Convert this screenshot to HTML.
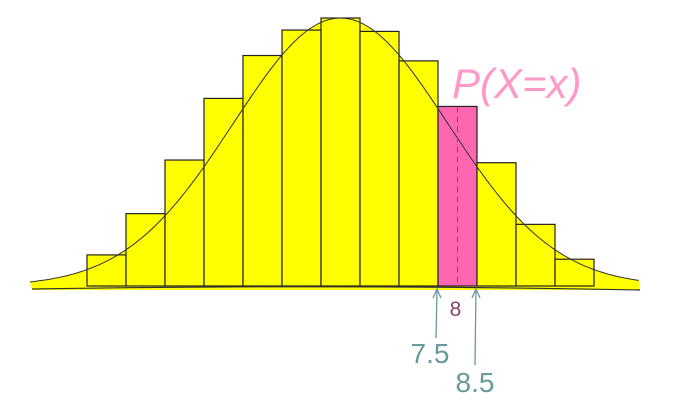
<!DOCTYPE html>
<html><head><meta charset="utf-8"><style>
html,body{margin:0;padding:0;background:#fff;width:684px;height:418px;overflow:hidden}
svg{display:block}
text{font-family:"Liberation Sans",sans-serif}
</style></head><body>
<svg id="chart" width="684" height="418">
<g id="fillLayer"></g><g id="barLayer"></g><g id="curveLayer"></g><g id="annotLayer"></g>
</svg>
<script>
const categories = [-1,0,1,2,3,4,5,6,7,8,9,10,11];
const probabilities = [0.116,0.27,0.47,0.70,0.86,0.955,1.0,0.95,0.84,0.67,0.46,0.23,0.10];
const highlightCategory = 8;
const curveMean = 5.0;
const curveSigma = 2.75;

const NS='http://www.w3.org/2000/svg';
const svg=document.getElementById('chart');
const baseY=286, topY=18, left=87, bw=39;
function xPos(v){return left+(v-categories[0]+0.5)*bw;}
function yPos(p){return baseY-p*(baseY-topY);}
function mk(tag,attrs,parent){const e=document.createElementNS(NS,tag);for(const k in attrs)e.setAttribute(k,attrs[k]);parent.appendChild(e);return e;}

let pts=[];
for(let x=30;x<=640;x+=3){const v=categories[0]-0.5+(x-left)/bw;const p=Math.exp(-Math.pow(v-curveMean,2)/(2*curveSigma*curveSigma));pts.push([x,yPos(p)]);}
const d='M'+pts.map(p=>p[0]+','+p[1].toFixed(1)).join(' L');
const fill=mk('path',{d:d+' L640,'+(baseY+4)+' L32,'+(baseY+4)+' Z',fill:'#ffff00',stroke:'none'},document.getElementById('fillLayer'));



const bl=document.getElementById('barLayer');
probabilities.forEach((p,i)=>{
  const c=categories[i];
  const r=mk('rect',{x:xPos(c)-bw/2,y:yPos(p),width:bw,height:baseY-yPos(p),fill:c===highlightCategory?'#ff66b0':'#ffff00',stroke:'#222','stroke-width':1.2},bl);
  
  
});
const cl=document.getElementById('curveLayer');
const line=mk('path',{d:d,fill:'none',stroke:'#333','stroke-width':1},cl);


const base=mk('path',{d:'M32,'+(baseY+3)+' Q330,'+(baseY-2)+' 640,'+(baseY+4),fill:'none',stroke:'#333','stroke-width':1.2},cl);



const al=document.getElementById('annotLayer');
const hx=xPos(highlightCategory), hp=probabilities[categories.indexOf(highlightCategory)];
const dash=mk('line',{x1:hx,y1:yPos(hp),x2:hx,y2:baseY,stroke:'#884466','stroke-dasharray':'6,4','stroke-width':1},al);


const lx=hx-bw/2, rx=hx+bw/2;
const a1=mk('path',{d:`M${lx-2},338 L${lx-1},${baseY+3} M${lx-5},${baseY+12} L${lx-1},${baseY+3} L${lx+3},${baseY+12}`,fill:'none',stroke:'#6a9a9a','stroke-width':1.3},al);


const a2=mk('path',{d:`M${rx-2},365 L${rx-1},${baseY+3} M${rx-5},${baseY+12} L${rx-1},${baseY+3} L${rx+3},${baseY+12}`,fill:'none',stroke:'#6a9a9a','stroke-width':1.3},al);


function txt(s,x,y,size,col,name){const t=mk('text',{x:x,y:y,'font-size':size,fill:col,'text-anchor':'middle'},al);t.textContent=s;

return t;}
txt('8',hx-2,316,21,'#884466','label-8');
txt('7.5',lx-8,363,28,'#6a9a9a','label-7-5');
txt('8.5',rx-2,392,28,'#6a9a9a','label-8-5');
const pt=mk('text',{x:452,y:98,'font-size':42,fill:'#ff99c8','font-style':'italic'},al);
pt.textContent='P(X=x)';


</script>
</body></html>
